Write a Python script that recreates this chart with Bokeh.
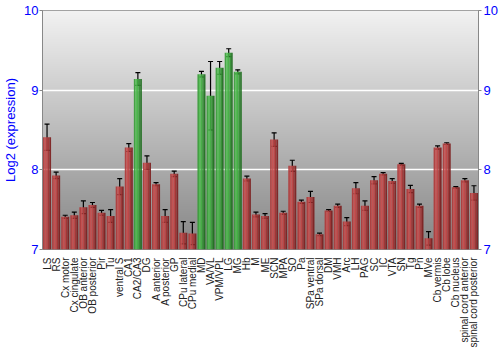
import math
import numpy as np
from bokeh.plotting import figure
from bokeh.models import (ColumnDataSource, FactorRange, LinearAxis, FixedTicker,
                          Whisker, TeeHead, Range1d)
from bokeh.transform import dodge
from bokeh.embed import file_html
from bokeh.resources import INLINE

categories = ["LS", "RS", "Cx motor", "Cx cingulate", "OB anterior", "OB posterior",
              "Pir", "Tu", "ventral S", "CA1", "CA2/CA3", "DG", "A anterior",
              "A posterior", "GP", "CPu lateral", "CPu medial", "MD", "VA/VL",
              "VPM/VPL", "LG", "MG", "Hb", "M", "ME", "SCN", "MPA", "SO", "Pa",
              "SPa ventral", "SPa dorsal", "DM", "VMH", "Arc", "LH", "PAG", "SC",
              "IC", "VTA", "SN", "Tg", "Pn", "MVe", "Cb vermis", "Cb lobe",
              "Cb nucleus", "spinal cord anterior", "spinal cord posterior"]
values = [8.41, 7.93, 7.41, 7.43, 7.53, 7.56,
          7.46, 7.42, 7.79, 8.28, 9.14, 8.09, 7.82,
          7.42, 7.95, 7.21, 7.20, 9.20, 8.93,
          9.28, 9.47, 9.23, 7.89, 7.44, 7.42, 8.38, 7.46, 8.05, 7.60,
          7.66, 7.19, 7.49, 7.55, 7.35, 7.77, 7.55, 7.87,
          7.95, 7.86, 8.07, 7.76, 7.55, 7.14, 8.28, 8.33,
          7.78, 7.87, 7.71]
errors = [0.165, 0.04, 0.02, 0.04, 0.08, 0.03,
          0.03, 0.08, 0.10, 0.05, 0.08, 0.085, 0.02,
          0.08, 0.035, 0.14, 0.14, 0.035, 0.43,
          0.08, 0.05, 0.025, 0.03, 0.03, 0.03, 0.085, 0.02, 0.07, 0.02,
          0.07, 0.015, 0.01, 0.02, 0.05, 0.07, 0.06, 0.045,
          0.015, 0.03, 0.012, 0.045, 0.02, 0.085, 0.02, 0.01,
          0.01, 0.02, 0.09]
highlighted = ["CA2/CA3", "MD", "VA/VL", "VPM/VPL", "LG", "MG"]
y_ticks = [7, 8, 9, 10]

red_shades = ["#b03a3a", "#c84c4c", "#bd4242", "#a03030", "#7d1e1e"]
green_shades = ["#3a9e3a", "#4cbc4c", "#40ae40", "#2e8e2e", "#1e6e1e"]

data = dict(cat=categories, val=values,
            upper=[v + e for v, e in zip(values, errors)],
            lower=[v - e for v, e in zip(values, errors)])
for i in range(5):
    data["c%d" % i] = [(green_shades if c in highlighted else red_shades)[i]
                       for c in categories]
src = ColumnDataSource(data)

p = figure(width=500, height=350, output_backend="svg", toolbar_location=None,
           x_range=FactorRange(*categories, range_padding=0),
           y_range=Range1d(y_ticks[0], y_ticks[-1]),
           min_border_left=34, min_border_right=21, min_border_top=10,
           min_border_bottom=99)
p.background_fill_color = "#bbbbbb"
p.border_fill_color = "white"
p.outline_line_color = "#888888"

# vertical gradient background
n = 241
top = np.array([242, 242, 242], dtype=float)
bot = np.array([134, 134, 134], dtype=float)
t = np.linspace(0, 1, n)[:, None]
rgb = (bot * (1 - t) + top * t).astype(np.uint32)
img = (255 << 24) | (rgb[:, 2] << 16) | (rgb[:, 1] << 8) | rgb[:, 0]
img = img.reshape(n, 1).astype(np.uint32)
bg = p.image_rgba(image=[img], x=0, y=y_ticks[0], dw=len(categories),
                  dh=y_ticks[-1] - y_ticks[0])
bg.level = "image"

p.xgrid.grid_line_color = None
p.ygrid.ticker = FixedTicker(ticks=[8, 9])
p.ygrid.grid_line_color = "white"
p.ygrid.grid_line_width = 1.6

# shaded bars as vertical strips
bw = 0.88
sw = bw / 5
for i in range(5):
    off = -bw / 2 + sw * (i + 0.5)
    p.vbar(x=dodge("cat", off, range=p.x_range), top="val", bottom=y_ticks[0],
           width=sw * 1.04, source=src, fill_color="c%d" % i, line_color=None,
           fill_alpha=0.92)

w = Whisker(base="cat", upper="upper", lower="lower", source=src,
            line_color="black", line_width=1.2,
            upper_head=TeeHead(size=5, line_color="black", line_width=1.2),
            lower_head=TeeHead(size=5, line_color="black", line_width=1.2))
p.add_layout(w)

font = "Liberation Sans"
ya = p.yaxis[0]
ya.ticker = FixedTicker(ticks=y_ticks)
ya.axis_label = "Log2 (expression)"
ya.axis_label_text_color = "blue"
ya.axis_label_text_font = font
ya.axis_label_text_font_size = "13px"
ya.axis_label_text_font_style = "normal"
ya.axis_label_standoff = 3
ya.major_label_text_color = "blue"
ya.major_label_text_font = font
ya.major_label_text_font_size = "13px"
ya.major_label_standoff = 1
ya.major_tick_out = 3
ya.major_tick_in = 0
ya.minor_tick_line_color = None
ya.axis_line_color = "#888888"
ya.major_tick_line_color = "#888888"

ra = LinearAxis(ticker=FixedTicker(ticks=y_ticks))
ra.major_label_text_color = "blue"
ra.major_label_text_font = font
ra.major_label_text_font_size = "13px"
ra.major_label_standoff = 2
ra.major_tick_out = 3
ra.major_tick_in = 0
ra.minor_tick_line_color = None
ra.axis_line_color = "#888888"
ra.major_tick_line_color = "#888888"
p.add_layout(ra, "right")

xa = p.xaxis[0]
xa.major_label_orientation = math.pi / 2
xa.major_label_text_font = font
xa.major_label_text_font_size = "10px"
xa.major_label_text_color = "#222222"
xa.major_label_standoff = 2
xa.major_tick_line_color = None
xa.axis_line_color = None
xa.group_text_font_size = "0px"

open("out.html", "w").write(file_html(p, INLINE))
